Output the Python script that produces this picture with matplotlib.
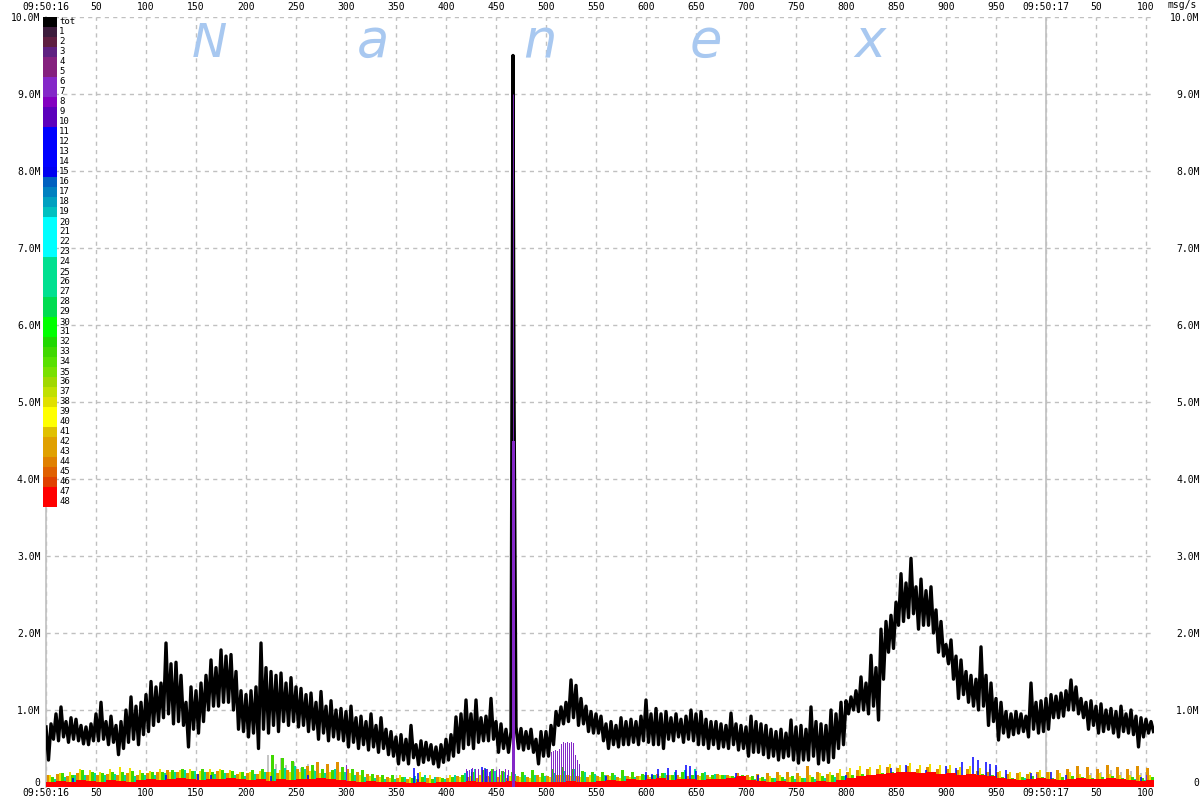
import numpy as np
import matplotlib
matplotlib.use('agg')
import matplotlib.pyplot as plt
import matplotlib.transforms as mtransforms
from matplotlib.patches import Rectangle

# total msg/s (millions): peak and trough inside each 5 ms slot from 09:50:16.000
tot_hi = [
    0.78, 0.82, 0.95, 1.04, 0.85, 0.90, 0.88, 0.80, 0.78, 0.82,
    0.95, 1.10, 0.85, 0.92, 0.80, 0.85, 1.00, 1.17, 1.05, 1.10,
    1.20, 1.37, 1.30, 1.35, 1.87, 1.60, 1.62, 1.45, 1.10, 1.30,
    1.25, 1.35, 1.45, 1.65, 1.55, 1.78, 1.70, 1.72, 1.50, 1.25,
    1.20, 1.25, 1.30, 1.87, 1.55, 1.50, 1.45, 1.48, 1.35, 1.42,
    1.30, 1.28, 1.20, 1.22, 1.10, 1.24, 1.05, 1.12, 1.00, 1.02,
    0.98, 1.05, 0.90, 0.92, 0.85, 0.95, 0.80, 0.90, 0.75, 0.72,
    0.65, 0.68, 0.62, 0.80, 0.55, 0.60, 0.58, 0.55, 0.52, 0.55,
    0.62, 0.68, 0.91, 0.95, 1.13, 0.95, 1.13, 0.90, 0.92, 1.15,
    0.85, 0.82, 0.75, 0.72, 0.78, 0.76, 0.72, 0.75, 0.62, 0.72,
    0.72, 0.80, 0.98, 1.04, 1.10, 1.39, 1.32, 1.15, 1.05, 0.98,
    0.95, 0.92, 0.82, 0.85, 0.80, 0.90, 0.85, 0.88, 0.85, 0.92,
    1.13, 0.95, 1.02, 0.95, 0.98, 0.90, 0.95, 0.88, 0.92, 1.00,
    0.95, 0.98, 0.88, 0.85, 0.85, 0.82, 0.80, 0.96, 0.82, 0.80,
    0.78, 0.92, 0.85, 0.82, 0.80, 0.75, 0.72, 0.75, 0.70, 0.87,
    0.78, 0.80, 0.75, 1.04, 0.85, 0.82, 0.80, 1.00, 0.95, 1.10,
    1.12, 1.17, 1.25, 1.43, 1.35, 1.71, 1.55, 2.05, 2.15, 2.23,
    2.40, 2.77, 2.65, 2.97, 2.60, 2.70, 2.55, 2.60, 2.30, 2.15,
    1.85, 1.91, 1.70, 1.65, 1.50, 1.45, 1.40, 1.82, 1.45, 1.35,
    1.15, 1.10, 0.98, 0.95, 0.98, 0.95, 0.92, 1.35, 1.10, 1.12,
    1.15, 1.20, 1.18, 1.22, 1.25, 1.39, 1.30, 1.15, 1.10, 1.12,
    1.05, 1.08, 1.00, 1.02, 0.98, 1.05, 0.95, 1.00, 0.92, 0.90,
    0.88, 0.85,
]
tot_lo = [
    0.35, 0.62, 0.60, 0.65, 0.58, 0.62, 0.60, 0.56, 0.55, 0.60,
    0.60, 0.62, 0.55, 0.58, 0.42, 0.50, 0.58, 0.62, 0.55, 0.68,
    0.72, 0.80, 0.85, 0.90, 0.95, 0.82, 0.85, 0.80, 0.52, 0.75,
    0.70, 0.85, 1.00, 1.05, 1.05, 1.10, 1.10, 1.00, 0.75, 0.72,
    0.65, 0.70, 0.50, 0.75, 0.70, 0.80, 0.72, 0.85, 0.80, 0.85,
    0.78, 0.80, 0.72, 0.75, 0.62, 0.70, 0.60, 0.65, 0.62, 0.60,
    0.52, 0.58, 0.50, 0.55, 0.48, 0.52, 0.45, 0.50, 0.42, 0.40,
    0.30, 0.35, 0.30, 0.38, 0.29, 0.32, 0.35, 0.30, 0.26, 0.32,
    0.35, 0.40, 0.45, 0.50, 0.55, 0.50, 0.58, 0.60, 0.60, 0.62,
    0.45, 0.50, 0.45, 0.55, 0.50, 0.48, 0.50, 0.45, 0.30, 0.40,
    0.40, 0.55, 0.80, 0.82, 0.85, 0.90, 0.80, 0.82, 0.72, 0.70,
    0.70, 0.60, 0.50, 0.55, 0.52, 0.55, 0.55, 0.58, 0.55, 0.60,
    0.58, 0.55, 0.55, 0.50, 0.62, 0.60, 0.65, 0.58, 0.62, 0.60,
    0.55, 0.55, 0.50, 0.55, 0.50, 0.52, 0.50, 0.55, 0.48, 0.50,
    0.40, 0.45, 0.45, 0.42, 0.38, 0.40, 0.35, 0.38, 0.40, 0.35,
    0.31, 0.35, 0.35, 0.40, 0.30, 0.35, 0.32, 0.38, 0.50, 0.55,
    0.95, 1.00, 0.98, 1.00, 0.95, 1.05, 0.87, 1.40, 1.75, 1.80,
    2.10, 2.15, 2.20, 2.25, 2.05, 2.10, 2.10, 2.00, 1.75, 1.70,
    1.60, 1.40, 1.15, 1.20, 1.10, 1.05, 1.00, 1.05, 0.80, 0.85,
    0.61, 0.70, 0.65, 0.68, 0.70, 0.72, 0.65, 0.75, 0.70, 0.72,
    0.75, 0.90, 0.90, 0.92, 1.00, 1.00, 0.95, 0.90, 0.75, 0.80,
    0.70, 0.72, 0.75, 0.70, 0.65, 0.72, 0.70, 0.68, 0.52, 0.65,
    0.70, 0.72,
]
# the burst at ~467 ms
spike_ms = [466, 467, 468]
spike_tot = [5.1, 9.5, 5.1]
spike_purple = [4.5, 4.5, 4.5]

# per-exchange rates (millions), one value every 10 ms
red_vals = [
    0.07, 0.08, 0.06, 0.09, 0.08, 0.07, 0.09, 0.08, 0.07, 0.09,
    0.10, 0.09, 0.11, 0.12, 0.10, 0.09, 0.10, 0.11, 0.12, 0.10,
    0.09, 0.10, 0.08, 0.10, 0.09, 0.11, 0.10, 0.12, 0.10, 0.09,
    0.08, 0.07, 0.08, 0.06, 0.07, 0.06, 0.05, 0.06, 0.05, 0.06,
    0.06, 0.07, 0.08, 0.06, 0.07, 0.06, 0.08, 0.07, 0.06, 0.07,
    0.07, 0.06, 0.08, 0.07, 0.06, 0.08, 0.09, 0.08, 0.10, 0.09,
    0.10, 0.12, 0.09, 0.11, 0.10, 0.09, 0.11, 0.10, 0.12, 0.14,
    0.09, 0.08, 0.07, 0.08, 0.07, 0.06, 0.07, 0.08, 0.07, 0.09,
    0.12, 0.14, 0.15, 0.17, 0.18, 0.20, 0.19, 0.18, 0.20, 0.17,
    0.18, 0.16, 0.17, 0.15, 0.14, 0.12, 0.10, 0.09, 0.10, 0.12,
    0.10, 0.09, 0.11, 0.12, 0.10, 0.11, 0.12, 0.10, 0.09, 0.08, 0.09,
]
orange_vals = [
    0.15, 0.17, 0.14, 0.18, 0.16, 0.15, 0.17, 0.16, 0.18, 0.15,
    0.18, 0.20, 0.22, 0.19, 0.18, 0.17, 0.19, 0.21, 0.18, 0.17,
    0.18, 0.17, 0.20, 0.18, 0.22, 0.24, 0.27, 0.32, 0.30, 0.33,
    0.24, 0.20, 0.17, 0.15, 0.13, 0.12, 0.11, 0.10, 0.12, 0.13,
    0.12, 0.14, 0.13, 0.12, 0.14, 0.13, 0.12, 0.14, 0.13, 0.15,
    0.14, 0.16, 0.15, 0.14, 0.13, 0.14, 0.15, 0.13, 0.14, 0.14,
    0.16, 0.17, 0.15, 0.16, 0.14, 0.15, 0.16, 0.17, 0.15, 0.18,
    0.16, 0.17, 0.18, 0.20, 0.19, 0.18, 0.27, 0.20, 0.17, 0.18,
    0.20, 0.22, 0.24, 0.23, 0.26, 0.25, 0.27, 0.24, 0.26, 0.23,
    0.24, 0.22, 0.23, 0.21, 0.20, 0.19, 0.17, 0.18, 0.17, 0.19,
    0.20, 0.22, 0.24, 0.27, 0.26, 0.24, 0.28, 0.26, 0.24, 0.27, 0.25,
]
yellow_vals = [
    0.15, 0.18, 0.20, 0.24, 0.22, 0.19, 0.24, 0.26, 0.25, 0.22,
    0.21, 0.23, 0.20, 0.22, 0.24, 0.21, 0.23, 0.24, 0.22, 0.20,
    0.19, 0.21, 0.20, 0.22, 0.19, 0.20, 0.21, 0.18, 0.19, 0.20,
    0.18, 0.15, 0.14, 0.13, 0.12, 0.15, 0.13, 0.19, 0.16, 0.13,
    0.15, 0.13, 0.14, 0.16, 0.13, 0.15, 0.14, 0.13, 0.12, 0.13,
    0.13, 0.15, 0.14, 0.13, 0.15, 0.13, 0.14, 0.12, 0.13, 0.14,
    0.13, 0.14, 0.15, 0.13, 0.12, 0.14, 0.13, 0.15, 0.14, 0.13,
    0.13, 0.12, 0.14, 0.15, 0.13, 0.14, 0.16, 0.18, 0.20, 0.23,
    0.25, 0.27, 0.26, 0.28, 0.30, 0.29, 0.31, 0.28, 0.30, 0.29,
    0.28, 0.26, 0.27, 0.25, 0.23, 0.21, 0.20, 0.19, 0.20, 0.22,
    0.19, 0.18, 0.20, 0.17, 0.16, 0.18, 0.17, 0.15, 0.16, 0.15, 0.16,
]
green_vals = [
    0.13, 0.18, 0.15, 0.22, 0.19, 0.18, 0.20, 0.19, 0.21, 0.18,
    0.19, 0.20, 0.22, 0.24, 0.21, 0.23, 0.20, 0.22, 0.21, 0.19,
    0.22, 0.24, 0.41, 0.38, 0.34, 0.26, 0.28, 0.24, 0.22, 0.26,
    0.24, 0.22, 0.17, 0.16, 0.15, 0.13, 0.12, 0.13, 0.11, 0.12,
    0.13, 0.16, 0.19, 0.22, 0.24, 0.21, 0.19, 0.20, 0.22, 0.18,
    0.23, 0.26, 0.24, 0.21, 0.19, 0.20, 0.18, 0.22, 0.19, 0.17,
    0.15, 0.18, 0.16, 0.19, 0.15, 0.18, 0.16, 0.15, 0.14, 0.16,
    0.14, 0.13, 0.12, 0.13, 0.14, 0.12, 0.13, 0.14, 0.15, 0.14,
    0.15, 0.17, 0.16, 0.18, 0.19, 0.17, 0.18, 0.16, 0.17, 0.15,
    0.14, 0.15, 0.16, 0.17, 0.15, 0.13, 0.12, 0.13, 0.14, 0.13,
    0.12, 0.13, 0.14, 0.13, 0.12, 0.13, 0.14, 0.12, 0.13, 0.12, 0.13,
]
teal_vals = [
    0.10, 0.13, 0.15, 0.16, 0.18, 0.15, 0.17, 0.16, 0.14, 0.15,
    0.16, 0.18, 0.20, 0.22, 0.21, 0.19, 0.17, 0.18, 0.15, 0.14,
    0.17, 0.19, 0.23, 0.25, 0.27, 0.24, 0.21, 0.18, 0.23, 0.20,
    0.15, 0.13, 0.12, 0.10, 0.11, 0.13, 0.14, 0.15, 0.13, 0.10,
    0.15, 0.18, 0.23, 0.25, 0.21, 0.19, 0.17, 0.15, 0.16, 0.14,
    0.18, 0.21, 0.23, 0.19, 0.17, 0.15, 0.16, 0.14, 0.13, 0.15,
    0.16, 0.18, 0.20, 0.22, 0.23, 0.19, 0.17, 0.15, 0.13, 0.14,
    0.11, 0.10, 0.12, 0.11, 0.10, 0.12, 0.11, 0.12, 0.13, 0.14,
    0.12, 0.14, 0.13, 0.12, 0.14, 0.13, 0.12, 0.14, 0.15, 0.13,
    0.12, 0.11, 0.13, 0.12, 0.11, 0.10, 0.11, 0.12, 0.10, 0.11,
    0.10, 0.09, 0.11, 0.10, 0.09, 0.10, 0.11, 0.09, 0.10, 0.09, 0.10,
]
# sparse exchanges: (ms, value)
blue_ms = [27, 120, 152, 165, 225, 262, 368, 372, 421, 426, 436, 440, 444, 462,
           560, 600, 606, 612, 622, 630, 640, 644, 650, 690, 712, 800, 845, 860,
           880, 900, 910, 916, 927, 932, 940, 944, 950, 960, 985, 1005, 1020, 1095]
blue_vals = [0.12, 0.16, 0.17, 0.16, 0.14, 0.15, 0.25, 0.18, 0.21, 0.24, 0.26, 0.23, 0.20, 0.15,
             0.14, 0.20, 0.17, 0.23, 0.25, 0.22, 0.29, 0.27, 0.21, 0.18, 0.15, 0.15, 0.25, 0.28,
             0.22, 0.27, 0.25, 0.33, 0.39, 0.35, 0.33, 0.30, 0.28, 0.22, 0.18, 0.20, 0.16, 0.13]
purple_ms = [300, 420, 423, 426, 429, 432, 435, 438, 441, 444, 447, 450, 453, 456, 459, 462,
             505, 507, 509, 511, 513, 515, 517, 519, 521, 523, 525, 527, 529, 531, 533, 990, 1100]
purple_vals = [0.28, 0.24, 0.22, 0.25, 0.23, 0.24, 0.22, 0.25, 0.23, 0.21, 0.24, 0.22, 0.23, 0.21, 0.24, 0.22,
               0.46, 0.47, 0.48, 0.47, 0.49, 0.56, 0.58, 0.57, 0.58, 0.57, 0.58, 0.57, 0.42, 0.35, 0.30, 0.17, 0.16]
gray_ms = [222, 226, 230, 235, 240, 248, 255, 262, 268, 1045, 1055, 1065, 1075, 1085, 1095, 1100]
gray_vals = [0.42, 0.35, 0.30, 0.38, 0.28, 0.33, 0.25, 0.30, 0.22, 0.18, 0.20, 0.22, 0.19, 0.21, 0.18, 0.20]

legend_labels = ['tot'] + [str(i) for i in range(1, 49)]
legend_colors = [
    '#000000', '#3c1c3c', '#5e1e40', '#5e2080', '#84207e', '#84207e', '#8428c8', '#8428c8',
    '#8400c0', '#5c00bc', '#5c00bc', '#0000ff', '#0000ff', '#0000ff', '#0000ff', '#0000f0',
    '#0060c0', '#0080c0', '#00a0c0', '#00c0c0', '#00ffff', '#00ffff', '#00ffff', '#00ffff',
    '#00e090', '#00e090', '#00e090', '#00e090', '#00dc50', '#00dc50', '#00ff00', '#00ff00',
    '#20d800', '#40d800', '#58e000', '#78e000', '#a0d800', '#c0e000', '#e0e000', '#ffff00',
    '#ffff00', '#e0c000', '#e0a000', '#e0a000', '#e08000', '#e06000', '#e04000', '#ff0000',
    '#ff0000',
]

mono = 'DejaVu Sans Mono'
fig = plt.figure(figsize=(12, 8), dpi=100)
ax = fig.add_axes([46 / 1200, 13 / 800, 1108 / 1200, 770 / 800])

bins = np.arange(len(red_vals)) * 10
# bars interleaved inside each 10 ms slot; red sits in front as the base
for vals, col, off in [(orange_vals, '#e09000', 0.0), (yellow_vals, '#f0e000', 2.5),
                       (green_vals, '#40d800', 5.0), (teal_vals, '#00d8a0', 7.5)]:
    ax.bar(bins + off, vals, width=2.5, align='edge', color=col, linewidth=0, zorder=2)
ax.vlines(gray_ms, 0, gray_vals, color='#b4b4b4', linewidth=1.1, zorder=1.5)
ax.vlines(blue_ms, 0, blue_vals, color='#0000ff', linewidth=1.1, zorder=2.5)
ax.vlines(purple_ms, 0, purple_vals, color='#8428c8', linewidth=0.5,
          antialiased=False, zorder=2.5)
ax.bar(bins, red_vals, width=10, align='edge', color='#ff0000', linewidth=0, zorder=3)

# total: zigzag through peak/trough of every 5 ms slot, burst merged in
n = len(tot_hi)
zx = np.empty(2 * n)
zy = np.empty(2 * n)
zx[0::2] = np.arange(n) * 5
zx[1::2] = np.arange(n) * 5 + 2.5
zy[0::2] = tot_hi
zy[1::2] = tot_lo
keep = (zx < 465.5) | (zx > 468.5)
zx = np.concatenate([zx[keep], spike_ms])
zy = np.concatenate([zy[keep], spike_tot])
order = np.argsort(zx)
ax.plot(zx[order], zy[order], color='black', linewidth=2.4, zorder=4)
ax.bar(spike_ms, spike_purple, width=1.0, color='#8428c8', linewidth=0, zorder=5)
ax.vlines([467], 4.5, 9.0, color='#8428c8', linewidth=0.6, zorder=5)

ax.set_xlim(0, 1108)
ax.set_ylim(0, 10)

xt = np.arange(0, 1101, 50)
xl = []
for v in xt:
    if v == 0:
        xl.append('09:50:16')
    elif v == 1000:
        xl.append('09:50:17')
    elif v > 1000:
        xl.append(str(v - 1000))
    else:
        xl.append(str(v))
ax.set_xticks(xt)
ax.set_xticklabels(xl, fontfamily=mono, fontsize=7)
yt = np.arange(0, 11)
ax.set_yticks(yt)
ax.set_yticklabels(['0'] + ['%.1fM' % v for v in yt[1:]], fontfamily=mono, fontsize=7)
ax.tick_params(axis='x', length=0, labeltop=True, pad=1)
ax.tick_params(axis='y', length=0, labelright=True, pad=4)

# right-hand labels end at the figure edge, top labels lifted a little
off_right = mtransforms.ScaledTranslation(40 / 100, 0, fig.dpi_scale_trans)
off_zero = mtransforms.ScaledTranslation(0, 5 / 100, fig.dpi_scale_trans)
for i, t in enumerate(ax.yaxis.get_major_ticks()):
    t.label2.set_horizontalalignment('right')
    t.label2.set_transform(t.label2.get_transform() + off_right)
    if i == 0:
        t.label1.set_transform(t.label1.get_transform() + off_zero)
        t.label2.set_transform(t.label2.get_transform() + off_zero)
off_top = mtransforms.ScaledTranslation(0, 4 / 100, fig.dpi_scale_trans)
for t in ax.xaxis.get_major_ticks():
    t.label2.set_transform(t.label2.get_transform() + off_top)

ax.grid(True, color='#c0c0c0', linestyle=(0, (3, 3)), linewidth=1)
ax.set_axisbelow(True)
ax.axvline(1000, color='#c0c0c0', linewidth=1.2, zorder=1)
for s in ['top', 'right', 'bottom']:
    ax.spines[s].set_visible(False)
ax.spines['left'].set_color('#c0c0c0')
ax.spines['left'].set_linewidth(1.2)

fig.text(1197 / 1200, 1 - 5 / 800, 'msg/s', ha='right', va='center', fontfamily=mono, fontsize=7)

# exchange colour key
for i, (lab, col) in enumerate(zip(legend_labels, legend_colors)):
    top = 17 + i * 10
    fig.add_artist(Rectangle((43 / 1200, 1 - (top + 10) / 800), 14 / 1200, 10 / 800,
                             transform=fig.transFigure, facecolor=col, edgecolor='none', zorder=10))
    fig.text(59 / 1200, 1 - (top + 5) / 800, lab, ha='left', va='center',
             fontfamily=mono, fontsize=6.5, zorder=10)

# watermark
for ch, x, fs in [('N', 209, 34), ('a', 373, 38), ('n', 540, 38), ('e', 706, 38), ('x', 870, 38)]:
    fig.text(x / 1200, 1 - 57 / 800, ch, ha='center', va='baseline', color='#a8c8f0',
             fontsize=fs, style='italic', fontfamily='DejaVu Sans', zorder=0)

plt.savefig('out.png', dpi=100)
plt.close()
